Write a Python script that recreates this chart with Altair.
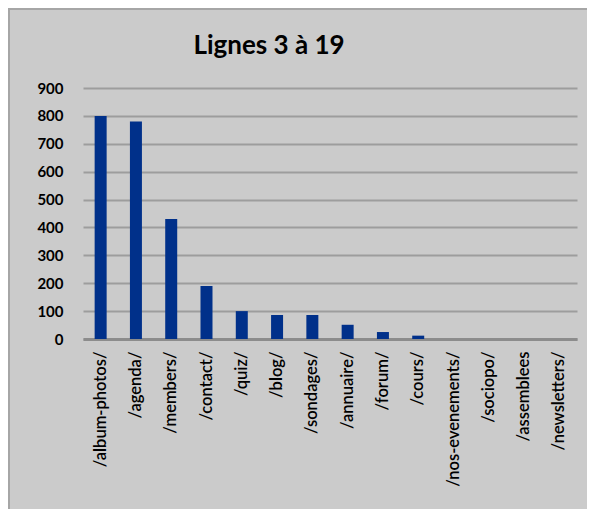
import altair as alt
import pandas as pd

categories = ["/album-photos/", "/agenda/", "/members/", "/contact/", "/quiz/", "/blog/",
              "/sondages/", "/annuaire/", "/forum/", "/cours/", "/nos-evenements/",
              "/sociopo/", "/assemblees", "/newsletters/"]
values = [800, 780, 430, 190, 100, 86, 86, 51, 25, 12, 0, 0, 0, 0]
title_text = "Lignes 3 à 19"
y_ticks = [0, 100, 200, 300, 400, 500, 600, 700, 800, 900]

df = pd.DataFrame({"page": categories, "hits": values})

BG = "#cbcbcb"

bars = alt.Chart(df).mark_bar(color="#00308a").encode(
    x=alt.X("page:N", sort=categories, title=None,
            scale=alt.Scale(paddingInner=0.66, paddingOuter=0.33),
            axis=alt.Axis(labelAngle=-90, labelFont="Lato", labelFontSize=16.5,
                          labelFontWeight=600,
                          labelColor="#000000", labelPadding=12, ticks=False,
                          domainColor="#8c8c8c", domainWidth=3, labelAlign="right",
                          labelBaseline="middle", labelLimit=300)),
    y=alt.Y("hits:Q", title=None,
            scale=alt.Scale(domain=[0, 900], nice=False),
            axis=alt.Axis(values=y_ticks, labelFont="Lato", labelFontSize=15,
                          labelFontWeight="bold", labelColor="#000000", labelPadding=20,
                          ticks=False, domain=False, grid=True, gridColor="#9d9d9d",
                          gridWidth=2)),
)

one = pd.DataFrame({"a": [0]})
title = alt.Chart(one).mark_text(font="Lato", fontSize=26, fontWeight="bold",
                                 color="#000000", align="center",
                                 baseline="alphabetic").encode(
    x=alt.value(186), y=alt.value(-34), text=alt.value(title_text))

border_top = alt.Chart(one).mark_rule(color="#a6a6a6", strokeWidth=2).encode(
    x=alt.value(-75), x2=alt.value(530), y=alt.value(-79))
border_left = alt.Chart(one).mark_rule(color="#a6a6a6", strokeWidth=2).encode(
    x=alt.value(-74), y=alt.value(-79), y2=alt.value(430))

chart = alt.layer(bars, title, border_top, border_left).properties(
    width=494, height=251,
    autosize=alt.AutoSizeParams(type="none"),
    padding={"left": 75, "top": 80, "right": 10, "bottom": 170},
    background=BG,
).configure_view(stroke=None)

chart.save("out.html", embed_options={"renderer": "svg", "actions": False})
